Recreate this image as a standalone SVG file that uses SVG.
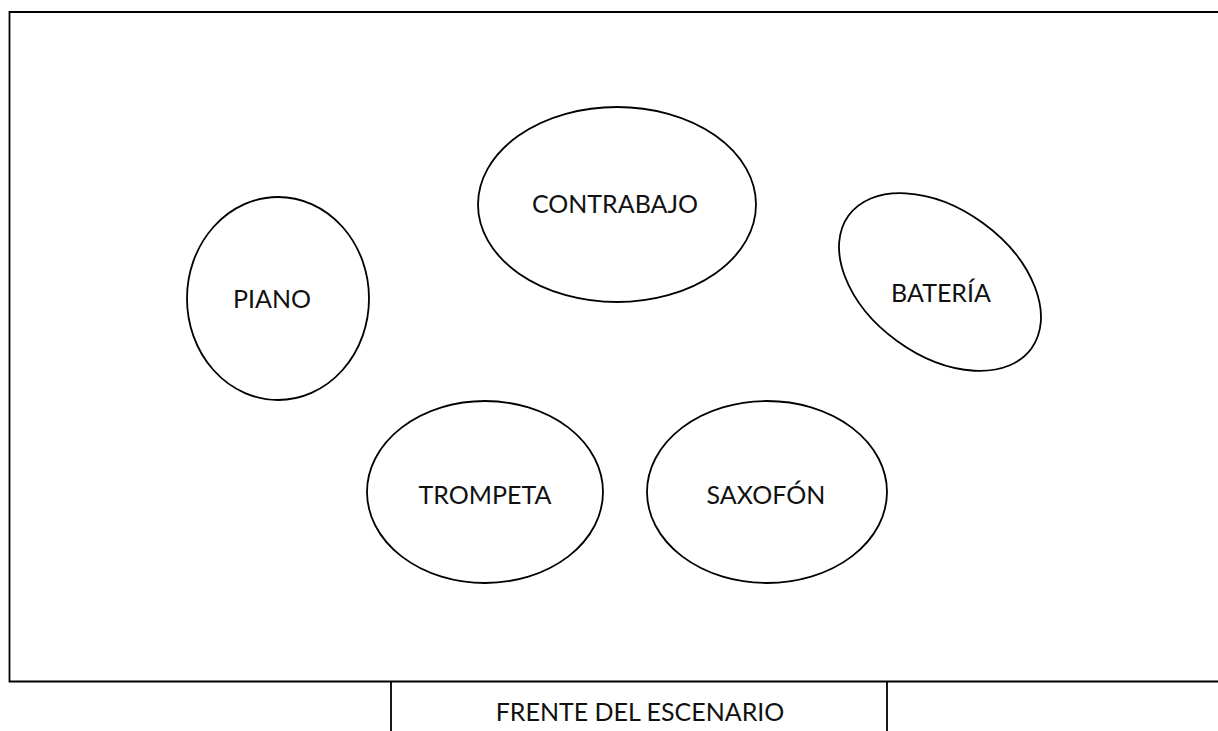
<svg xmlns="http://www.w3.org/2000/svg" width="1218" height="731" viewBox="0 0 1218 731">
<style>
.frame{fill:none;stroke:#000;stroke-width:1.8}
.node ellipse{fill:#fff;stroke:#000;stroke-width:1.8}
text{font-family:Lato,"Open Sans","Liberation Sans",sans-serif;font-size:25px;fill:#111;text-anchor:middle}
</style>
<rect width="1218" height="731" fill="#fff"/>
<g id="stage">
<path class="frame" d="M1218,12 H9.5 V681.5 H1218"/>
<path class="frame" d="M391,681.5 V731 M887,681.5 V731"/>
<text x="640" y="721">FRENTE DEL ESCENARIO</text>
</g>
<g id="piano" class="node">
<ellipse cx="278" cy="298.5" rx="91" ry="101.5"/>
<text x="272" y="308">PIANO</text>
</g>
<g id="contrabajo" class="node">
<ellipse cx="617" cy="204.5" rx="139" ry="97.5"/>
<text x="615" y="213">CONTRABAJO</text>
</g>
<g id="bateria" class="node">
<ellipse cx="940" cy="282" rx="113" ry="73" transform="rotate(36 940 282)"/>
<text x="941" y="302">BATERÍA</text>
</g>
<g id="trompeta" class="node">
<ellipse cx="485" cy="492" rx="118" ry="91"/>
<text x="485" y="504">TROMPETA</text>
</g>
<g id="saxofon" class="node">
<ellipse cx="767" cy="492" rx="120" ry="91"/>
<text x="766" y="504">SAXOFÓN</text>
</g>
<g id="connectors"></g>
</svg>
